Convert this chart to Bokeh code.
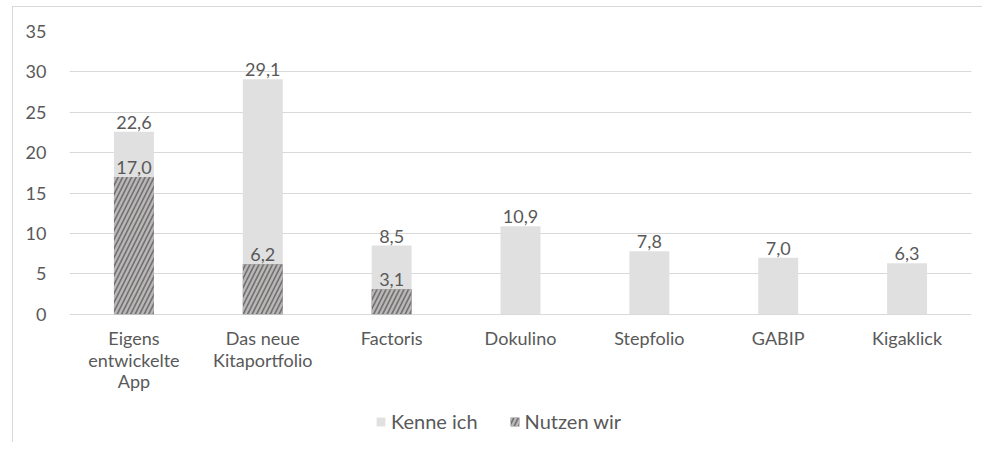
from bokeh.plotting import figure
from bokeh.models import ColumnDataSource, Legend, LegendItem, Range1d, FixedTicker, LabelSet
from bokeh.core.properties import value
from bokeh.embed import file_html
from bokeh.resources import INLINE

categories = ["Eigens entwickelte App", "Das neue Kitaportfolio", "Factoris", "Dokulino",
              "Stepfolio", "GABIP", "Kigaklick"]
tick_labels = ["Eigens\nentwickelte\nApp", "Das neue\nKitaportfolio", "Factoris", "Dokulino",
               "Stepfolio", "GABIP", "Kigaklick"]
kenne_ich = [22.6, 29.1, 8.5, 10.9, 7.8, 7.0, 6.3]
nutzen_cats = ["Eigens entwickelte App", "Das neue Kitaportfolio", "Factoris"]
nutzen_wir = [17.0, 6.2, 3.1]
y_ticks = [0, 5, 10, 15, 20, 25, 30, 35]

FONT = "Lato"
FS = "18px"
TXT = "#595959"

def fmt(v):
    return f"{v:.1f}".replace(".", ",")

src_k = ColumnDataSource(dict(x=categories, top=kenne_ich, lbl=[fmt(v) for v in kenne_ich]))
src_n = ColumnDataSource(dict(x=nutzen_cats, top=nutzen_wir, lbl=[fmt(v) for v in nutzen_wir]))
src_t = ColumnDataSource(dict(x=categories, y=[0] * len(categories), lbl=tick_labels))

p = figure(x_range=categories, y_range=Range1d(-15.75, 35), width=970, height=436,
           output_backend="svg", toolbar_location=None, x_axis_location=None,
           margin=(6, 0, 0, 12),
           min_border_left=56, min_border_right=12, min_border_top=24, min_border_bottom=2)
p.styles = {"border-left": "1px solid #d9d9d9", "border-top": "1px solid #d9d9d9"}
p.outline_line_color = None
p.background_fill_color = "white"
p.border_fill_color = "white"

r_k = p.vbar(x="x", top="top", width=0.31, source=src_k, fill_color="#e0e0e0", line_color=None)
r_n = p.vbar(x="x", top="top", width=0.31, source=src_n, fill_color="#767171", line_color=None,
             hatch_pattern="right_diagonal_line", hatch_color="#b8b8b8", hatch_scale=9, hatch_weight=2.4)

for src in (src_k, src_n):
    lbls = LabelSet(x="x", y="top", text="lbl", source=src, text_align="center",
                    text_baseline="bottom", y_offset=3, text_font=value(FONT), text_font_size=FS,
                    text_color=TXT)
    p.add_layout(lbls)

# category labels (multi-line) under the zero line
p.text(x="x", y="y", text="lbl", source=src_t, text_align="center", text_baseline="top",
       y_offset=13, text_font=value(FONT), text_font_size=FS, text_color=TXT,
       text_line_height=0.98)

p.yaxis.ticker = FixedTicker(ticks=y_ticks)
p.yaxis.axis_line_color = None
p.yaxis.major_tick_line_color = None
p.yaxis.minor_tick_line_color = None
p.yaxis.major_label_standoff = 17
p.yaxis.major_label_text_font = FONT
p.yaxis.major_label_text_font_size = FS
p.yaxis.major_label_text_color = TXT

p.xgrid.grid_line_color = None
p.ygrid.grid_line_color = "#d9d9d9"
p.ygrid.grid_line_width = 1

legend = Legend(items=[LegendItem(label="Kenne ich", renderers=[r_k]),
                       LegendItem(label="Nutzen wir", renderers=[r_n])],
                location=(306, 8), orientation="horizontal",
                padding=0, margin=0, spacing=31, label_standoff=5,
                glyph_width=11, glyph_height=11, label_height=20,
                label_text_font=FONT, label_text_font_size="20px", label_text_color=TXT,
                border_line_color=None, background_fill_alpha=0)
p.add_layout(legend)

open("out.html", "w").write(file_html(p, INLINE))
